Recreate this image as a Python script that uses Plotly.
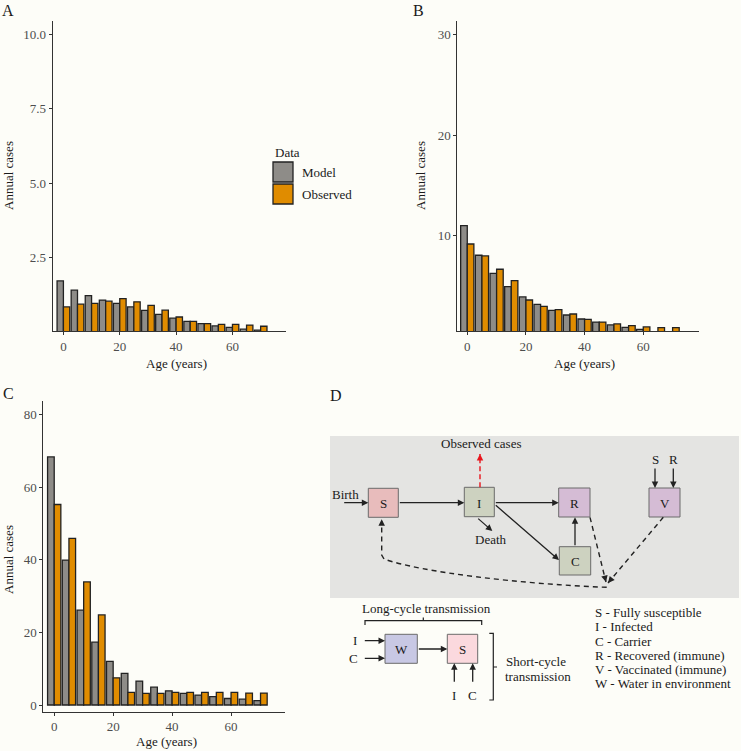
import plotly.graph_objects as go

W, H = 741, 751
BG = "#fdfdf8"
FONT = "Liberation Serif, Times New Roman, DejaVu Serif, serif"
INK = "#1a1a1a"

# age groups (years) and annual cases
ages = [0, 5, 10, 15, 20, 25, 30, 35, 40, 45, 50, 55, 60, 65, 70]
a_model = [1.71, 1.40, 1.22, 1.07, 0.96, 0.84, 0.72, 0.59, 0.46, 0.35, 0.28, 0.20, 0.15, 0.09, 0.06]
a_obs = [0.84, 0.93, 0.96, 1.03, 1.12, 1.01, 0.89, 0.73, 0.50, 0.35, 0.28, 0.25, 0.25, 0.23, 0.19]
b_model = [11.0, 8.06, 6.27, 4.94, 3.92, 3.19, 2.59, 2.13, 1.73, 1.43, 1.14, 0.90, 0.71, 0.40, 0.30]
b_obs = [9.18, 7.99, 6.67, 5.54, 3.62, 2.99, 2.66, 2.23, 1.70, 1.43, 1.24, 1.07, 0.94, 0.87, 0.87]
c_model = [68.3, 39.9, 26.1, 17.3, 12.0, 8.7, 6.6, 4.9, 3.9, 3.2, 2.75, 2.3, 1.8, 1.6, 1.2]
c_obs = [55.2, 45.9, 33.9, 24.8, 7.5, 3.5, 3.2, 3.2, 3.5, 3.5, 3.5, 3.5, 3.5, 3.3, 3.3]

series_names = ["Model", "Observed"]
series_colors = ["#8e8c88", "#e08c00"]

a_ticks = [2.5, 5.0, 7.5, 10.0]
b_ticks = [10, 20, 30]
c_ticks = [0, 20, 40, 60, 80]
x_ticks = [0, 20, 40, 60]

legend_lines = ["S - Fully susceptible", "I - Infected", "C - Carrier",
                "R - Recovered (immune)", "V - Vaccinated (immune)",
                "W - Water in environment"]


def xdom(l, r):
    return [l / W, r / W]


def ydom(top, bottom):
    return [1 - bottom / H, 1 - top / H]


fig = go.Figure()

panels = [
    ("x", "y", a_model, a_obs),
    ("x2", "y2", b_model, b_obs),
    ("x3", "y3", c_model, c_obs),
]
for xa, ya, mod, obs in panels:
    for name, col, vals in zip(series_names, series_colors, [mod, obs]):
        fig.add_trace(go.Bar(
            x=ages, y=vals, name=name, xaxis=xa, yaxis=ya,
            marker=dict(color=col, line=dict(color="#222222", width=1.3)),
            showlegend=False, offsetgroup=name
        ))

# invisible pixel overlay for the schematic and text
fig.add_trace(go.Scatter(x=[], y=[], xaxis="x4", yaxis="y4", showlegend=False))

axis_common = dict(showline=True, linecolor="#333333", linewidth=1.1, ticks="outside",
                   ticklen=3, tickcolor="#333333", showgrid=False, zeroline=False,
                   tickfont=dict(family=FONT, size=13, color="#4d4d4d"), fixedrange=True)

fig.update_layout(
    width=W, height=H, margin=dict(l=0, r=0, t=0, b=0),
    paper_bgcolor=BG, plot_bgcolor="rgba(0,0,0,0)",
    barmode="group", bargap=0.1, bargroupgap=0,
    font=dict(family=FONT, size=13, color=INK),
    xaxis=dict(domain=xdom(52.7, 286), range=[-3.8, 79], tickvals=x_ticks, anchor="y", **axis_common),
    yaxis=dict(domain=ydom(20.7, 331), range=[0.03, 10.45], tickvals=a_ticks, tickformat=".1f",
               anchor="x", **axis_common),
    xaxis2=dict(domain=xdom(457.3, 699), range=[-3.4, 79], tickvals=x_ticks, anchor="y2", **axis_common),
    yaxis2=dict(domain=ydom(20.7, 331), range=[0.54, 31.35], tickvals=b_ticks, anchor="x2", **axis_common),
    xaxis3=dict(domain=xdom(43.3, 285), range=[-3.7, 78.3], tickvals=x_ticks, anchor="y3", **axis_common),
    yaxis3=dict(domain=ydom(401, 711.7), range=[-1.84, 83.7], tickvals=c_ticks, anchor="x3", **axis_common),
    xaxis4=dict(domain=[0, 1], range=[0, W], visible=False, fixedrange=True, anchor="y4"),
    yaxis4=dict(domain=[0, 1], range=[H, 0], visible=False, fixedrange=True, anchor="x4"),
)

shapes = []
annots = []
DASH = "5px,4px"


def text(x, y, s, size=13, xanchor="center", angle=0, color=INK):
    annots.append(dict(x=x, y=y, xref="x4", yref="y4", text=s, showarrow=False,
                       xanchor=xanchor, yanchor="middle", textangle=angle,
                       font=dict(family=FONT, size=size, color=color)))


def arrow(x0, y0, x1, y1, color="#222222"):
    annots.append(dict(x=x1, y=y1, ax=x0, ay=y0, xref="x4", yref="y4", axref="x4", ayref="y4",
                       text="", showarrow=True, arrowhead=2, arrowsize=1, arrowwidth=1.3,
                       arrowcolor=color, standoff=0))


def dashed_arrow(x0, y0, x1, y1, color="#222222", dash=DASH):
    shapes.append(dict(type="line", x0=x0, y0=y0, x1=x1, y1=y1, xref="x4", yref="y4",
                       line=dict(color=color, width=1.4, dash=dash)))
    dx, dy = x1 - x0, y1 - y0
    n = (dx ** 2 + dy ** 2) ** 0.5
    arrow(x1 - 6 * dx / n, y1 - 6 * dy / n, x1, y1, color)


def box(x0, y0, x1, y1, fill, label):
    shapes.append(dict(type="rect", x0=x0, y0=y0, x1=x1, y1=y1, xref="x4", yref="y4",
                       fillcolor=fill, line=dict(color="#6b6b6b", width=1)))
    text((x0 + x1) / 2, (y0 + y1) / 2 + 1, label)


# panel labels and axis titles
text(8, 10, "A", size=16)
text(418, 10, "B", size=16)
text(8, 393, "C", size=16)
text(336, 395, "D", size=16)
text(8, 176, "Annual cases", angle=-90)
text(420, 176, "Annual cases", angle=-90)
text(8, 560, "Annual cases", angle=-90)
text(176, 363, "Age (years)")
text(584, 363, "Age (years)")
text(166, 741, "Age (years)")

# legend for panel A
text(273, 152, "Data", xanchor="left")
for i, (name, col) in enumerate(zip(series_names, series_colors)):
    y0 = 162 + i * 22
    shapes.append(dict(type="rect", x0=273, y0=y0, x1=293, y1=y0 + 20, xref="x4", yref="y4",
                       fillcolor=col, line=dict(color="#222222", width=1.3)))
    text(300, y0 + 10.5, name, xanchor="left")

# panel D: schematic
shapes.append(dict(type="rect", x0=330, y0=436, x1=739, y1=598, xref="x4", yref="y4",
                   fillcolor="#e4e4e2", line=dict(width=0), layer="below"))

box(368.3, 488.3, 398.3, 517.3, "#e8bcbc", "S")
box(464.3, 487.3, 494.3, 516.7, "#cdd2c0", "I")
box(558.7, 488, 590, 517, "#d5bcd5", "R")
box(649, 488, 680, 517, "#d5bcd5", "V")
box(559.3, 546.7, 590.7, 575, "#cdd2c0", "C")

text(481, 443, "Observed cases")
text(345, 494, "Birth")
text(491, 539, "Death")
text(655, 459, "S")
text(673.3, 459, "R")

arrow(342.7, 502.7, 368.3, 502.7)
arrow(398.3, 502.7, 464.3, 502.7)
arrow(494.3, 502.7, 558.7, 502.7)
arrow(494.3, 504, 559, 560)
arrow(476.7, 517.3, 492.3, 531)
arrow(575, 546.7, 575, 517.3)
arrow(655, 467, 655, 488)
arrow(673.3, 467, 673.3, 488)

dashed_arrow(480, 487.3, 480, 454, color="#e8141c", dash="5px,3px")
dashed_arrow(590, 517.3, 606, 582)
dashed_arrow(663.3, 517.3, 608, 583)
shapes.append(dict(type="path", xref="x4", yref="y4",
                   path="M 606.7 587.3 C 520 584, 420 572, 384 559 L 381.7 555 L 381.7 526",
                   line=dict(color="#222222", width=1.4, dash=DASH)))
arrow(381.7, 526, 381.7, 519.3)

# lower schematic
text(426, 608, "Long-cycle transmission")
shapes.append(dict(type="path", xref="x4", yref="y4",
                   path="M 365 625 L 365 620.7 L 481.7 620.7 L 481.7 625 M 423.3 620.7 L 423.3 617.5",
                   line=dict(color="#222222", width=1.2)))
box(385, 634.3, 417.3, 663.3, "#c8c8e4", "W")
box(447.3, 634.3, 477.7, 663.3, "#fbd9de", "S")
text(355, 640, "I")
text(353, 658, "C")
arrow(363.3, 640.7, 385, 640.7)
arrow(363.3, 658.3, 385, 658.3)
arrow(417.3, 649, 447.3, 649)
arrow(454.3, 683.3, 454.3, 663.3)
arrow(472.7, 683.3, 472.7, 663.3)
text(454.3, 695, "I")
text(472.7, 695, "C")
shapes.append(dict(type="path", xref="x4", yref="y4",
                   path="M 489.3 633.3 L 493.3 633.3 L 493.3 700 L 489.3 700 M 493.3 667 L 497 667",
                   line=dict(color="#222222", width=1.2)))
text(536, 661, "Short-cycle")
text(538, 676, "transmission")

for i, line in enumerate(legend_lines):
    text(593, 612.7 + i * 14.2, line, xanchor="left")

fig.update_layout(shapes=shapes, annotations=annots)

# the page body has a default 8px margin; drop it so the figure fills the window
fig.write_html("out.html", config={"displayModeBar": False},
               post_script="document.body.style.margin='0';")
